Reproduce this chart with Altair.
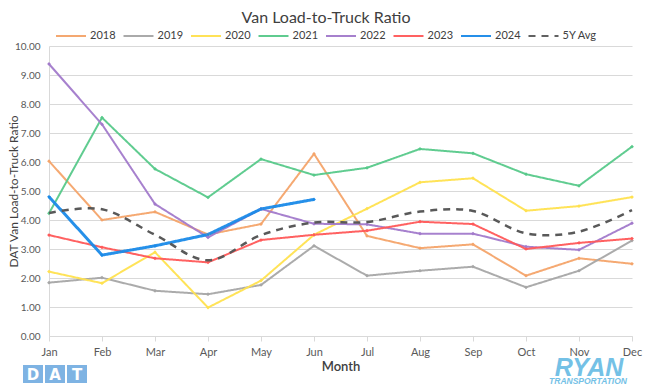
import altair as alt
import pandas as pd

months = ["Jan", "Feb", "Mar", "Apr", "May", "Jun", "Jul", "Aug", "Sep", "Oct", "Nov", "Dec"]
series_names = ["2018", "2019", "2020", "2021", "2022", "2023", "2024", "5Y Avg"]
series_colors = ["#F4A46A", "#A6A6A6", "#FFE14F", "#57C98A", "#A27ACB", "#FF5959", "#1A8AE8", "#595959"]

v2018 = [6.03, 4.00, 4.28, 3.50, 3.86, 6.28, 3.45, 3.03, 3.16, 2.08, 2.68, 2.49]
v2019 = [1.84, 2.01, 1.56, 1.44, 1.76, 3.11, 2.08, 2.25, 2.39, 1.68, 2.25, 3.29]
v2020 = [2.22, 1.82, 2.89, 0.98, 1.91, 3.49, 4.39, 5.30, 5.44, 4.32, 4.48, 4.79]
v2021 = [4.23, 7.53, 5.76, 4.78, 6.10, 5.55, 5.80, 6.45, 6.30, 5.58, 5.18, 6.53]
v2022 = [9.38, 7.30, 4.55, 3.40, 4.38, 3.87, 3.85, 3.53, 3.53, 3.08, 2.97, 3.89]
v2023 = [3.48, 3.06, 2.68, 2.54, 3.31, 3.49, 3.63, 3.94, 3.86, 3.00, 3.21, 3.36]
v2024 = [4.80, 2.79, 3.11, 3.50, 4.38, 4.71]
avg5 = [4.24, 4.37, 3.49, 2.61, 3.48, 3.91, 3.93, 4.29, 4.31, 3.54, 3.60, 4.34]

title_text = "Van Load-to-Truck Ratio"

yearly = {"2018": v2018, "2019": v2019, "2020": v2020, "2021": v2021,
          "2022": v2022, "2023": v2023, "2024": v2024}

rows = []
for name, vals in yearly.items():
    for i, v in enumerate(vals):
        rows.append({"series": name, "month": months[i], "value": v, "order": series_names.index(name)})
df = pd.DataFrame(rows)
df_avg = pd.DataFrame({"series": "5Y Avg", "month": months, "value": avg5})

FONT = "Lato"

x_enc = alt.X("month:N", sort=months, scale=alt.Scale(domain=months, padding=0),
              axis=alt.Axis(title="Month", labelAngle=0, labelFontSize=11, labelColor="#595959",
                            labelPadding=5, tickSize=5, tickColor="#D9D9D9", domainColor="#D9D9D9",
                            titleFontSize=13, titleFontWeight=600, titleColor="#404040",
                            titlePadding=3, grid=False))
y_enc = alt.Y("value:Q", scale=alt.Scale(domain=[0, 10], nice=False),
              axis=alt.Axis(title="DAT Van Load-to-Truck Ratio", values=list(range(0, 11)),
                            format=".2f", labelFontSize=10, labelColor="#595959", tickSize=0,
                            labelPadding=9, domainColor="#D9D9D9", gridColor="#D9D9D9",
                            titleFontSize=12, titleFontWeight="normal", titleColor="#404040",
                            titleX=-36, titleY=145, titleAngle=270, titleAlign="center",
                            titleBaseline="middle"))

legend_kw = dict(title=None, orient="none", legendX=6, legendY=-26,
                 direction="horizontal", columns=8, symbolType="stroke",
                 symbolSize=900, symbolStrokeWidth=2, labelFontSize=11,
                 labelColor="#404040", labelOffset=3, columnPadding=3.5,
                 labelFont=FONT)

color_enc = alt.Color("series:N", scale=alt.Scale(domain=series_names, range=series_colors),
                      legend=alt.Legend(**legend_kw))
dash_enc = alt.StrokeDash("series:N",
                          scale=alt.Scale(domain=series_names,
                                          range=[[1, 0]] * 7 + [[7, 6]]),
                          legend=alt.Legend(**legend_kw))

lines = alt.Chart(df).mark_line(
    point=alt.OverlayMarkDef(shape="diamond", size=14, filled=True),
    opacity=0.95
).encode(
    x=x_enc, y=y_enc, color=color_enc, strokeDash=dash_enc,
    detail="series:N", order="order:Q",
    strokeWidth=alt.condition(alt.datum.series == "2024", alt.value(3), alt.value(2)),
)

avg_line = alt.Chart(df_avg).mark_line(interpolate="cardinal", strokeWidth=2.5).encode(
    x=x_enc, y=y_enc, color=color_enc, strokeDash=dash_enc,
)

one = pd.DataFrame({"k": [0]})

title_layer = alt.Chart(one).mark_text(
    text=title_text, color="#404040", fontSize=16, font=FONT,
    align="center", baseline="middle").encode(x=alt.value(277), y=alt.value(-28))

# Logos (decorative text)
dat_letters = ["D", "A", "T"]
logo_layers = []
for i, letter in enumerate(dat_letters):
    x0 = -26 + i * 22
    logo_layers.append(alt.Chart(one).mark_rect(color="#7EB3E3").encode(
        x=alt.value(x0), x2=alt.value(x0 + 20), y=alt.value(319), y2=alt.value(337)))
    logo_layers.append(alt.Chart(one).mark_text(
        text=letter, color="white", fontSize=15, fontWeight="bold", font="DejaVu Sans",
        align="center", baseline="middle").encode(x=alt.value(x0 + 10), y=alt.value(328.5)))

logo_layers.append(alt.Chart(one).mark_text(
    text="RYAN", color="#74C1E6", fontSize=25, fontWeight="bold", fontStyle="italic",
    font="Liberation Sans", align="center", baseline="alphabetic").encode(
    x=alt.value(540), y=alt.value(330)))
logo_layers.append(alt.Chart(one).mark_text(
    text="TRANSPORTATION", color="#74C1E6", fontSize=8.5, fontWeight="bold", fontStyle="italic",
    font="Liberation Sans", align="center", baseline="alphabetic").encode(
    x=alt.value(539), y=alt.value(337.5)))

chart = alt.layer(lines, avg_line, title_layer, *logo_layers).properties(
    width=583, height=290,
    autosize=alt.AutoSizeParams(type="none"),
    padding={"left": 41, "top": 38, "right": 13, "bottom": 48},
).configure(font=FONT).configure_view(stroke=None).configure_axis(
    labelFont=FONT, titleFont=FONT
)

chart.save("out.html", embed_options={"renderer": "svg", "actions": False})
